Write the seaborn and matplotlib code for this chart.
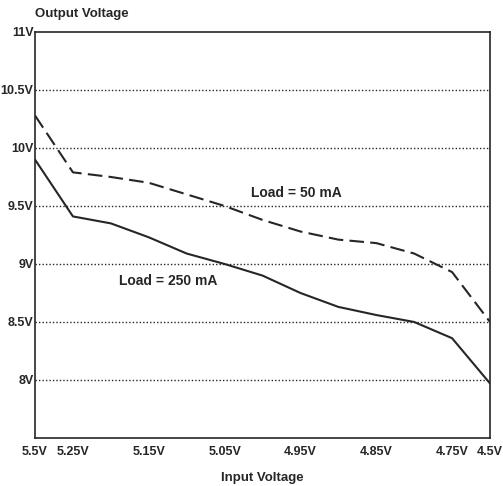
import matplotlib
matplotlib.use("Agg")
import matplotlib.pyplot as plt
import pandas as pd
import seaborn as sns

# Input voltage steps (evenly spaced categories on the x axis)
input_steps = ["5.5V", "5.25V", "5.2V", "5.15V", "5.1V", "5.05V", "5.0V",
               "4.95V", "4.9V", "4.85V", "4.8V", "4.75V", "4.5V"]
tick_labels = ["5.5V", "5.25V", "", "5.15V", "", "5.05V", "",
               "4.95V", "", "4.85V", "", "4.75V", "4.5V"]

# Output voltage readings
load_50 = [10.28, 9.79, 9.75, 9.70, 9.60, 9.50, 9.38,
           9.28, 9.21, 9.18, 9.09, 8.93, 8.50]
load_250 = [9.90, 9.41, 9.35, 9.23, 9.09, 9.00, 8.90,
            8.75, 8.63, 8.56, 8.50, 8.36, 7.97]

y_ticks = [8, 8.5, 9, 9.5, 10, 10.5, 11]
y_labels = ["8V", "8.5V", "9V", "9.5V", "10V", "10.5V", "11V"]

df = pd.DataFrame({
    "pos": list(range(len(input_steps))) * 2,
    "volt": load_50 + load_250,
    "load": ["50 mA"] * len(load_50) + ["250 mA"] * len(load_250),
})

sns.set_style("white")
plt.rcParams['font.family'] = ['Liberation Sans', 'DejaVu Sans']
ink = "#262626"

fig = plt.figure(figsize=(5.03, 4.86), dpi=100)
ax = fig.add_axes([0.0696, 0.0988, 0.9046, 0.8354])

sns.lineplot(data=df, x="pos", y="volt", style="load", ax=ax,
             dashes={"50 mA": (7, 3), "250 mA": ""}, color=ink,
             linewidth=1.5, legend=False)

ax.set_xlim(0, len(input_steps) - 1)
ax.set_ylim(7.5, 11)
ax.set_yticks(y_ticks)
ax.set_yticklabels(y_labels)
ax.set_xticks(range(len(input_steps)))
ax.set_xticklabels(tick_labels)
ax.tick_params(axis="x", direction="in", length=6, width=1, color=ink,
               labelsize=9, labelcolor=ink, pad=6)
ax.tick_params(axis="y", length=0, labelsize=9, labelcolor=ink, pad=1)
for lab in ax.get_xticklabels() + ax.get_yticklabels():
    lab.set_fontweight("bold")

for v in y_ticks[:-1]:
    ax.axhline(v, color=ink, linestyle=(0, (1, 1.5)), linewidth=1)

for s in ax.spines.values():
    s.set_color(ink)
    s.set_linewidth(1.2)

ax.set_xlabel("")
ax.set_ylabel("")

ax.text(6.9, 9.61, "Load = 50 mA", ha="center", va="center",
        fontsize=10, fontweight="bold", color=ink)
ax.text(3.5, 8.85, "Load = 250 mA", ha="center", va="center",
        fontsize=10, fontweight="bold", color=ink)

fig.text(35 / 503, 1 - 14 / 486, "Output Voltage", ha="left", va="center",
         fontsize=9.5, fontweight="bold", color=ink)
fig.text(262 / 503, 1 - 478 / 486, "Input Voltage", ha="center", va="center",
         fontsize=9.5, fontweight="bold", color=ink)

fig.savefig("out.png", dpi=100)
